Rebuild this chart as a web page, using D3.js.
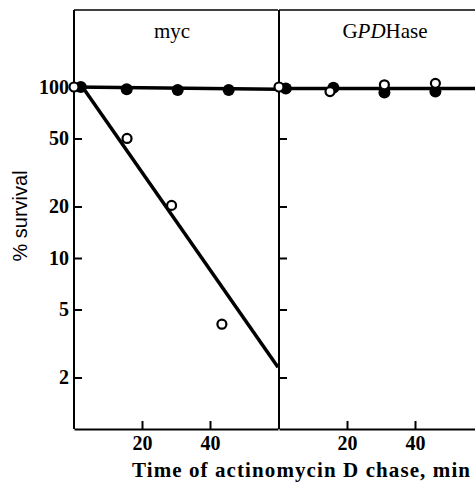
<!DOCTYPE html>
<html>
<head>
<meta charset="utf-8">
<script src="https://cdn.jsdelivr.net/npm/d3@7"></script>
<style>
  body { margin: 0; background: #fff; }
  svg { display: block; }
</style>
</head>
<body>
<script>
// panel names
var panels = ["myc", "GPDHase"]
// y tick labels (log scale, % survival)
var yTicks = [2, 5, 10, 20, 50, 100]
var xTicks = [20, 40]

// myc panel
var mycOpenTime = [0, 15.6, 28.7, 43.5]
var mycOpenVal = [100, 50, 20.3, 4.1]
var mycFilledTime = [2, 15.5, 30.5, 45.5]
var mycFilledVal = [100, 97, 96, 96]
var mycDecayTime = [2.5, 60]
var mycDecayVal = [100, 2.3]
var mycFlatTime = [0, 60]
var mycFlatVal = [100, 97]

// GPDHase panel
var gpdOpenTime = [0, 15, 31, 46]
var gpdOpenVal = [100, 94, 103, 105]
var gpdFilledTime = [2, 16, 31, 46]
var gpdFilledVal = [98, 99, 93, 94]
var gpdFlatTime = [0, 60]
var gpdFlatVal = [98, 98]

var width = 475, height = 482
var yTop = 10, yBottom = 429

var svg = d3.select("body").append("svg")
    .attr("width", width)
    .attr("height", height)

var yScale = d3.scaleLog()
    .domain([1, 282])
    .range([yBottom, yTop])

var xScales = [
    d3.scaleLinear().domain([0, 60]).range([74, 278]),
    d3.scaleLinear().domain([0, 60]).range([279, 483])
]

var serif = "'Liberation Serif', 'Times New Roman', serif"

function pts(t, v) {
    return t.map((d, i) => ({ x: d, y: v[i] }))
}

var panelData = [
    {
        lines: [pts(mycFlatTime, mycFlatVal), pts(mycDecayTime, mycDecayVal)],
        open: pts(mycOpenTime, mycOpenVal),
        filled: pts(mycFilledTime, mycFilledVal)
    },
    {
        lines: [pts(gpdFlatTime, gpdFlatVal)],
        open: pts(gpdOpenTime, gpdOpenVal),
        filled: pts(gpdFilledTime, gpdFilledVal)
    }
]

panelData.forEach((p, i) => {
    var x = xScales[i]
    var g = svg.append("g")

    // frame top
    g.append("line")
        .attr("x1", x.range()[0]).attr("x2", x.range()[1])
        .attr("y1", yTop).attr("y2", yTop)
        .attr("stroke", "#000").attr("stroke-width", 1.6)

    // y axis, ticks pointing inward
    var yAxis = d3.axisLeft(yScale)
        .tickValues(yTicks)
        .tickFormat(d3.format("d"))
        .tickSizeInner(-8)
        .tickSizeOuter(0)
        .tickPadding(5)
    var ya = g.append("g")
        .attr("transform", "translate(" + x.range()[0] + ",0)")
        .call(yAxis)
    ya.select(".domain").attr("d", "M0," + yTop + "V" + yBottom)
    if (i > 0) ya.selectAll(".tick text").remove()

    // x axis, ticks pointing up
    var xAxis = d3.axisBottom(x)
        .tickValues(xTicks)
        .tickSizeInner(-8)
        .tickSizeOuter(0)
        .tickPadding(7)
    g.append("g")
        .attr("transform", "translate(0," + yBottom + ")")
        .call(xAxis)

    g.selectAll(".domain, .tick line").attr("stroke", "#000").attr("stroke-width", 2)
    g.selectAll(".tick text")
        .attr("fill", "#000")
        .style("font-family", serif)
        .style("font-weight", "bold")
        .style("font-size", "20px")

    var line = d3.line()
        .x(d => x(d.x))
        .y(d => yScale(d.y))

    p.lines.forEach(l => {
        g.append("path")
            .datum(l)
            .attr("d", line)
            .attr("fill", "none")
            .attr("stroke", "#000")
            .attr("stroke-width", 3.5)
    })

    g.selectAll(".filled")
        .data(p.filled)
        .join("circle")
        .attr("class", "filled")
        .attr("cx", d => x(d.x))
        .attr("cy", d => yScale(d.y))
        .attr("r", 6)
        .attr("fill", "#000")

    g.selectAll(".open")
        .data(p.open)
        .join("circle")
        .attr("class", "open")
        .attr("cx", d => x(d.x))
        .attr("cy", d => yScale(d.y))
        .attr("r", 4.5)
        .attr("fill", "#fff")
        .attr("stroke", "#000")
        .attr("stroke-width", 2.2)
})

// panel titles
svg.append("text")
    .attr("x", 172).attr("y", 38)
    .attr("text-anchor", "middle")
    .style("font-family", serif)
    .style("font-size", "21px")
    .text(panels[0])

var gt = svg.append("text")
    .attr("x", 385).attr("y", 38)
    .attr("text-anchor", "middle")
    .style("font-family", serif)
    .style("font-size", "21px")
gt.append("tspan").text("G")
gt.append("tspan").style("font-style", "italic").text("PD")
gt.append("tspan").text("Hase")

// axis titles
svg.append("text")
    .attr("transform", "translate(27,216) rotate(-90)")
    .attr("text-anchor", "middle")
    .style("font-family", "'Liberation Sans', Arial, sans-serif")
    .style("font-size", "20px")
    .text("% survival")

svg.append("text")
    .attr("x", 301).attr("y", 477)
    .attr("text-anchor", "middle")
    .attr("textLength", 338)
    .attr("lengthAdjust", "spacing")
    .style("font-family", serif)
    .style("font-weight", "bold")
    .style("font-size", "21px")
    .text("Time of actinomycin D chase, min")
</script>
</body>
</html>
